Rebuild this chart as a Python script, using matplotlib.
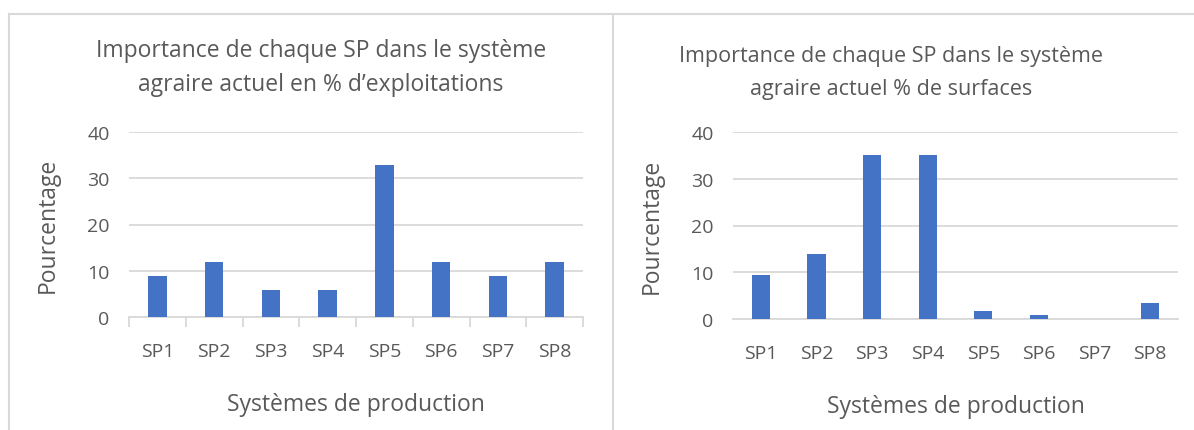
import matplotlib.pyplot as plt
from matplotlib.lines import Line2D
import numpy as np

# Données
categories = ['SP1', 'SP2', 'SP3', 'SP4', 'SP5', 'SP6', 'SP7', 'SP8']
pct_exploitations = [8.8, 11.8, 5.9, 5.9, 32.9, 11.8, 8.8, 11.8]
pct_surfaces = [9.4, 14.0, 35.1, 35.1, 1.8, 0.9, 0.0, 3.4]
yticks = [0, 10, 20, 30, 40]

titre_gauche = "Importance de chaque SP dans le système\nagraire actuel en % d\u2019exploitations"
titre_droite = "Importance de chaque SP dans le système\nagraire actuel % de surfaces"

bleu = '#4472C4'
gris_texte = '#595959'
gris_ligne = '#D9D9D9'

plt.rcParams['font.family'] = ['Open Sans', 'DejaVu Sans']

fig = plt.figure(figsize=(11.94, 4.31), dpi=100)

ax1 = fig.add_axes([129/1194, 1-318/431, 454/1194, 185/431])
ax2 = fig.add_axes([733/1194, 1-320/431, 445/1194, 187/431])

x = np.arange(len(categories))

for ax, vals in [(ax1, pct_exploitations), (ax2, pct_surfaces)]:
    ax.bar(x, vals, width=0.33, color=bleu, zorder=3)
    ax.set_xlim(-0.5, len(categories) - 0.5)
    ax.set_ylim(0, 40)
    ax.set_yticks(yticks)
    ax.set_xticks(x)
    ax.set_xticklabels(categories)
    ax.grid(axis='y', color=gris_ligne, linewidth=1.3, zorder=0)
    for s in ['top', 'right', 'left']:
        ax.spines[s].set_visible(False)
    ax.spines['bottom'].set_color(gris_ligne)
    ax.spines['bottom'].set_linewidth(1.3)
    ax.tick_params(axis='y', length=0, labelsize=14, labelcolor=gris_texte, pad=14)
    ax.tick_params(axis='x', length=0, labelsize=14, labelcolor=gris_texte, pad=18)
    ax.set_ylabel('Pourcentage', fontsize=16.5, color=gris_texte, labelpad=20)
    ax.set_xlabel('Systèmes de production', fontsize=16.5, color=gris_texte, labelpad=23)

# graduations entre catégories (graphique de gauche seulement)
ax1.set_xticks(np.arange(len(categories) + 1) - 0.5, minor=True)
ax1.tick_params(axis='x', which='minor', length=7, color=gris_ligne, width=1.3)

fig.text(321/1194, 1-68/431, titre_gauche, ha='center', va='center',
         fontsize=16.5, color=gris_texte, linespacing=1.6)
fig.text(891/1194, 1-73/431, titre_droite, ha='center', va='center',
         fontsize=15.5, color=gris_texte, linespacing=1.7)

# cadres des deux graphiques
cadre = dict(color=gris_ligne, linewidth=1.5, transform=fig.transFigure)
fig.add_artist(Line2D([9/1194, 1], [1-15/431, 1-15/431], **cadre))
fig.add_artist(Line2D([9/1194, 9/1194], [0, 1-15/431], **cadre))
fig.add_artist(Line2D([613/1194, 613/1194], [0, 1-15/431], **cadre))

plt.savefig('out.png')
